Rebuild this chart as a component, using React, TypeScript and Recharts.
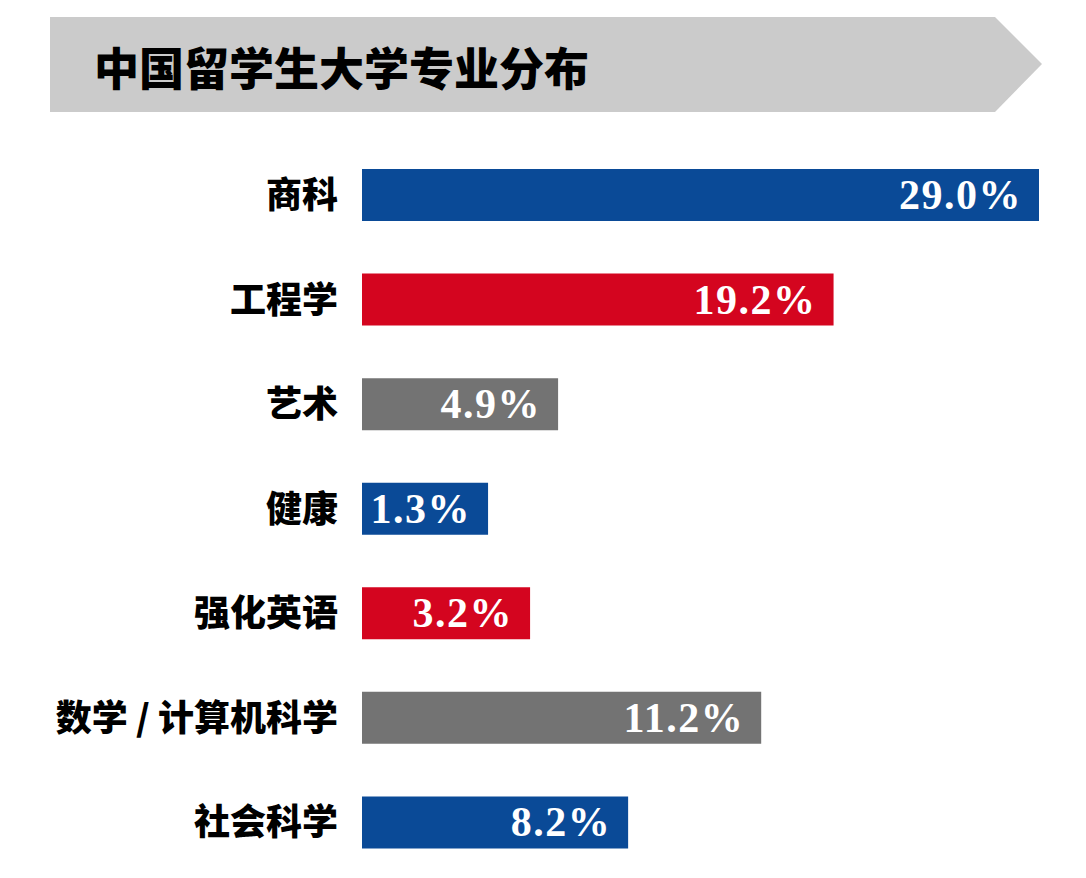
import { BarChart, Bar, XAxis, YAxis, Cell, LabelList } from 'recharts'

const majors = ['商科', '工程学', '艺术', '健康', '强化英语', '数学 / 计算机科学', '社会科学']
const shareLabels = ['29.0%', '19.2%', '4.9%', '1.3%', '3.2%', '11.2%', '8.2%']
// the source bars are not drawn to scale, so keep the drawn lengths (in % units of the top bar)
const barLength = [29.0, 20.2, 8.4, 5.4, 7.2, 17.1, 11.4]

const COLORS = ['#0a4a97', '#d4051f', '#737373']
const CJK = '"Noto Sans CJK SC", "Noto Sans", sans-serif'

const data = majors.map((major, i) => ({ major, length: barLength[i], label: shareLabels[i] }))

const ValueLabel = (props: any) => {
  const { x, y, width, height, value } = props
  return (
    <text
      x={x + width - 17}
      y={y + height / 2}
      textAnchor="end"
      dominantBaseline="central"
      fill="#ffffff"
      fontFamily='"Liberation Serif", "Times New Roman", serif'
      fontWeight="bold"
      fontSize={42}
      letterSpacing={1.5}
    >
      {value}
    </text>
  )
}

export default function App() {
  return (
    <div style={{ position: 'absolute', left: 0, top: 0, width: 1086, height: 878, background: '#ffffff' }}>
      <svg width={1086} height={130} style={{ position: 'absolute', left: 0, top: 0 }}>
        <polygon points="50,17 995,17 1042,64 995,112 50,112" fill="#cbcbcb" />
        <text x={94} y={66} dominantBaseline="central" fontFamily={CJK} fontWeight={900} fontSize={45} fill="#000">
          中国留学生大学专业分布
        </text>
      </svg>
      <div style={{ position: 'absolute', left: 0, top: 0 }}>
        <BarChart
          width={1086}
          height={878}
          data={data}
          layout="vertical"
          margin={{ top: 143, right: 47, bottom: 3, left: 0 }}
        >
          <XAxis type="number" hide domain={[0, 29.0]} />
          <YAxis
            type="category"
            dataKey="major"
            width={362}
            axisLine={false}
            tickLine={false}
            tickSize={0}
            tickMargin={24}
            tick={{ fill: '#000', fontSize: 36, fontWeight: 900, fontFamily: CJK }}
          />
          <Bar dataKey="length" barSize={52} isAnimationActive={false}>
            {data.map((d, i) => (
              <Cell key={d.major} fill={COLORS[i % COLORS.length]} />
            ))}
            <LabelList dataKey="label" content={<ValueLabel />} />
          </Bar>
        </BarChart>
      </div>
    </div>
  )
}
